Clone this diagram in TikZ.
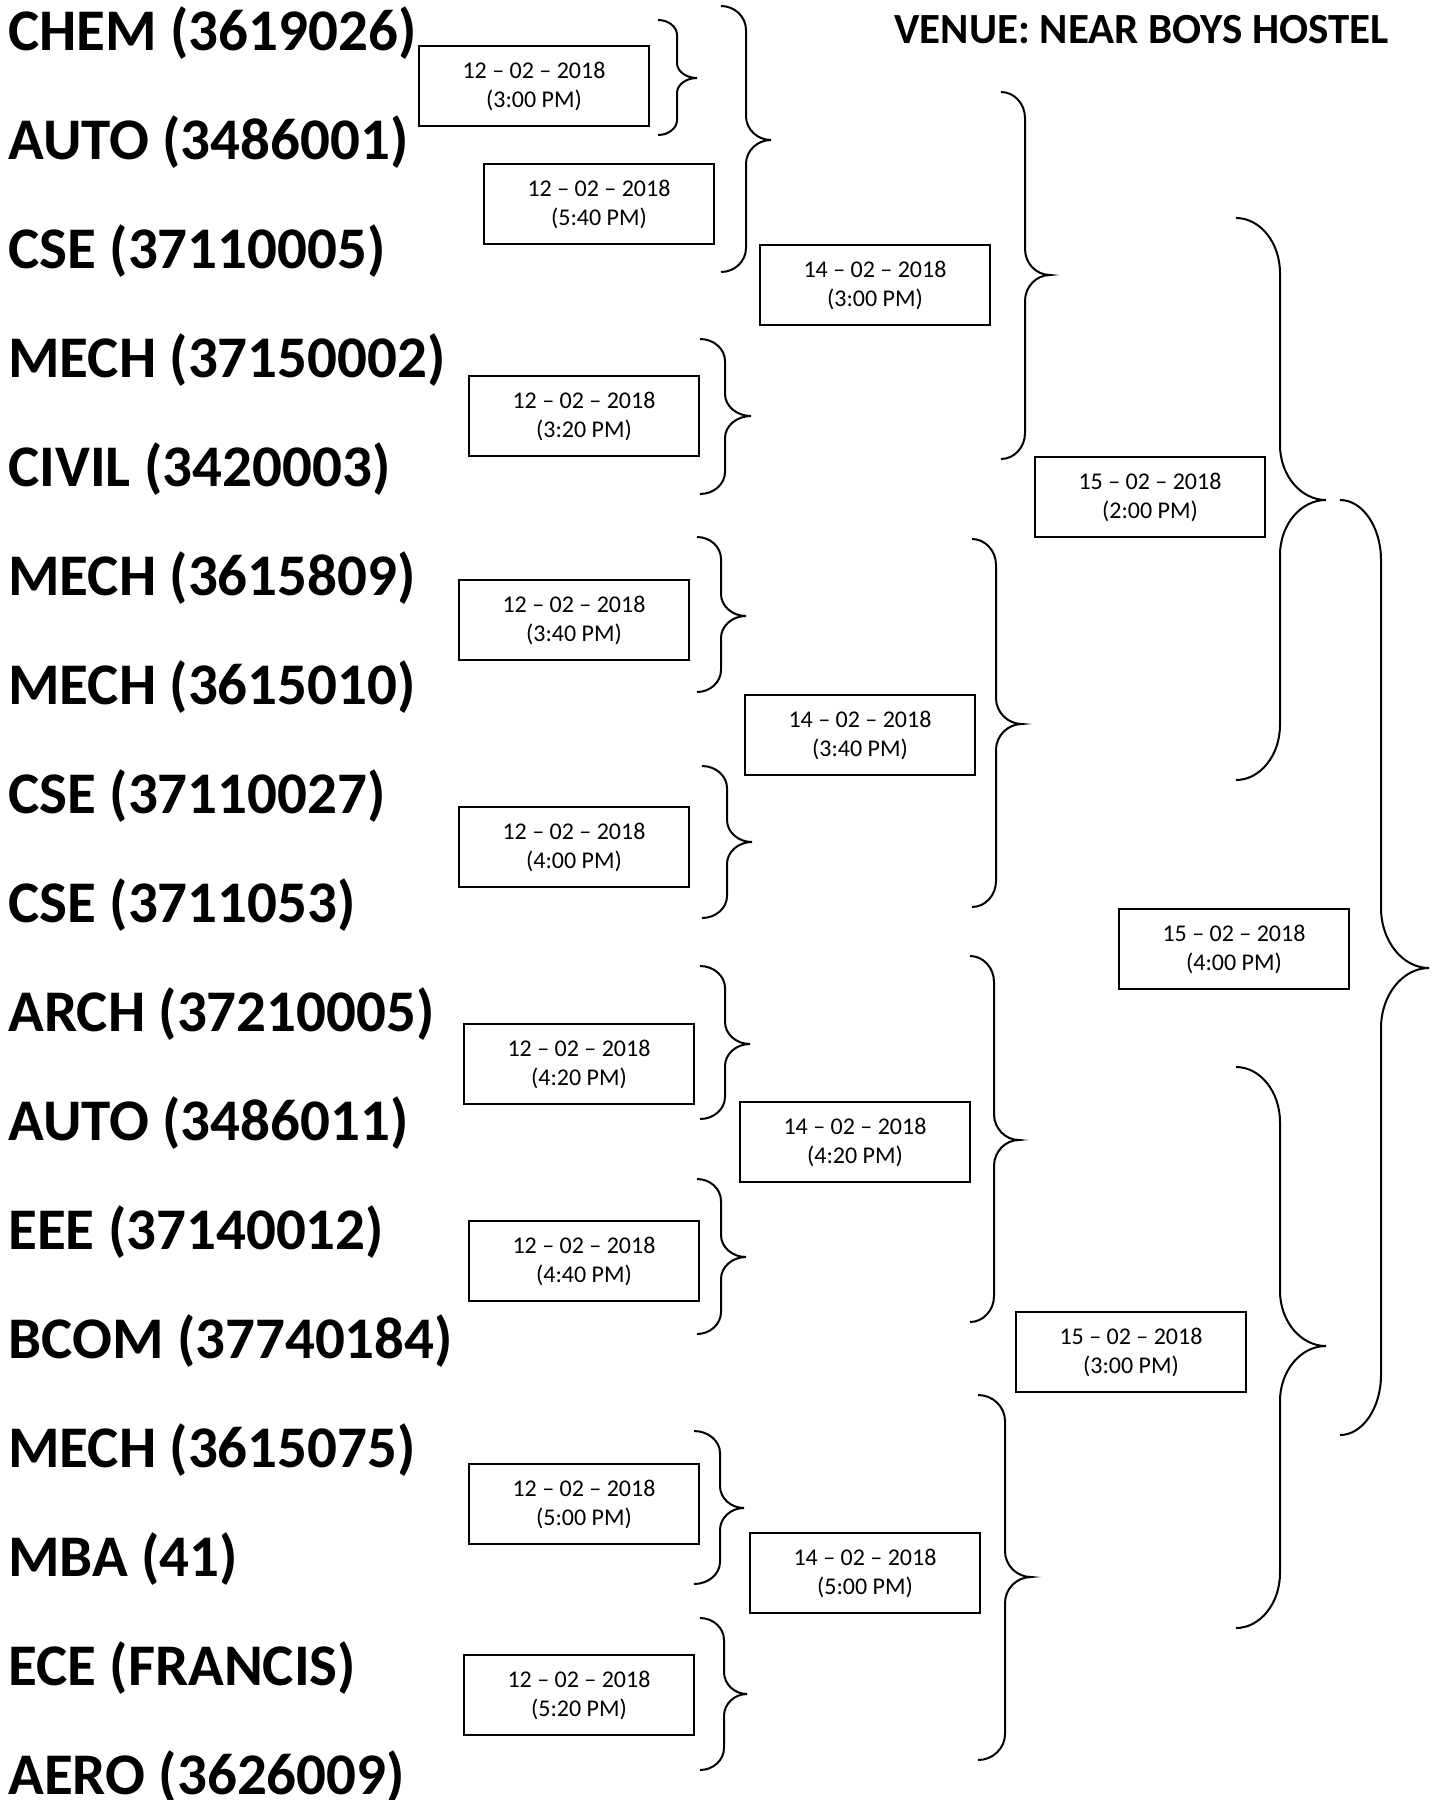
\documentclass[tikz,border=0pt]{standalone}
\usepackage{fontspec}
\setmainfont{Carlito}

% right curly bracket: end x, spine x, tip x, top y, tip y, bottom y, curl
\newcommand{\tiebrace}[7]{%
  \draw[bracket] (#1,#4) .. controls ({#1+0.55*(#2-#1)},#4) and (#2,{#4+0.45*#7}) .. (#2,{#4+#7})
    -- (#2,{#5-#7}) .. controls (#2,{#5-0.45*#7}) and ({#2+0.45*(#3-#2)},#5) .. (#3,#5)
    .. controls ({#2+0.45*(#3-#2)},#5) and (#2,{#5+0.45*#7}) .. (#2,{#5+#7})
    -- (#2,{#6-#7}) .. controls (#2,{#6-0.45*#7}) and ({#1+0.55*(#2-#1)},#6) .. (#1,#6);}

\tikzset{
  team/.style={anchor=base west, inner sep=0pt, font=\fontsize{29.5}{32}\selectfont\bfseries},
  datebox/.style={draw, line width=1pt, minimum width=115pt, minimum height=40pt,
    align=center, inner sep=0pt, font=\fontsize{12}{14.5}\selectfont},
  bracket/.style={line width=1pt},
}

\begin{document}
\begin{tikzpicture}[x=0.5pt, y=-0.5pt]
    \useasboundingbox (0,0) rectangle (1437,1800);

    % teams
    \node[team] (t1) at (8,50) {CHEM (3619026)};
    \node[team] (t2) at (8,159) {AUTO (3486001)};
    \node[team] (t3) at (8,268) {CSE (37110005)};
    \node[team] (t4) at (8,377) {MECH (37150002)};
    \node[team] (t5) at (8,486) {CIVIL (3420003)};
    \node[team] (t6) at (8,595) {MECH (3615809)};
    \node[team] (t7) at (8,704) {MECH (3615010)};
    \node[team] (t8) at (8,813) {CSE (37110027)};
    \node[team] (t9) at (8,922) {CSE (3711053)};
    \node[team] (t10) at (8,1031) {ARCH (37210005)};
    \node[team] (t11) at (8,1140) {AUTO (3486011)};
    \node[team] (t12) at (8,1249) {EEE (37140012)};
    \node[team] (t13) at (8,1358) {BCOM (37740184)};
    \node[team] (t14) at (8,1467) {MECH (3615075)};
    \node[team] (t15) at (8,1576) {MBA (41)};
    \node[team] (t16) at (8,1685) {ECE (FRANCIS)};
    \node[team] (t17) at (8,1794) {AERO (3626009)};

    \node[anchor=base west, inner sep=0pt, font=\fontsize{21.5}{24}\selectfont\bfseries] (venue) at (894,43) {VENUE: NEAR BOYS HOSTEL};

    % match dates
    \node[datebox] (d1) at (534,86) {12 -- 02 -- 2018\\(3:00 PM)};
    \node[datebox] (d2) at (599,204) {12 -- 02 -- 2018\\(5:40 PM)};
    \node[datebox] (q1) at (875,285) {14 -- 02 -- 2018\\(3:00 PM)};
    \node[datebox] (d3) at (584,416) {12 -- 02 -- 2018\\(3:20 PM)};
    \node[datebox] (s1) at (1150,497) {15 -- 02 -- 2018\\(2:00 PM)};
    \node[datebox] (d4) at (574,620) {12 -- 02 -- 2018\\(3:40 PM)};
    \node[datebox] (q2) at (860,735) {14 -- 02 -- 2018\\(3:40 PM)};
    \node[datebox] (d5) at (574,847) {12 -- 02 -- 2018\\(4:00 PM)};
    \node[datebox] (fin) at (1234,949) {15 -- 02 -- 2018\\(4:00 PM)};
    \node[datebox] (d6) at (579,1064) {12 -- 02 -- 2018\\(4:20 PM)};
    \node[datebox] (q3) at (855,1142) {14 -- 02 -- 2018\\(4:20 PM)};
    \node[datebox] (d7) at (584,1261) {12 -- 02 -- 2018\\(4:40 PM)};
    \node[datebox] (s2) at (1131,1352) {15 -- 02 -- 2018\\(3:00 PM)};
    \node[datebox] (d8) at (584,1504) {12 -- 02 -- 2018\\(5:00 PM)};
    \node[datebox] (q4) at (865,1573) {14 -- 02 -- 2018\\(5:00 PM)};
    \node[datebox] (d9) at (579,1695) {12 -- 02 -- 2018\\(5:20 PM)};

    % brackets
    \tiebrace{658}{677}{697}{20}{78}{135}{15}
    \tiebrace{721}{746}{771}{6}{140}{272}{24}
    \tiebrace{700}{725}{751}{339}{416}{494}{22}
    \tiebrace{1001}{1025}{1050}{92}{275}{459}{26}
    \tiebrace{697}{721}{746}{537}{616}{692}{22}
    \tiebrace{702}{727}{752}{766}{842}{918}{22}
    \tiebrace{972}{996}{1022}{539}{724}{907}{26}
    \tiebrace{1236}{1280}{1326}{218}{500}{780}{55}
    \tiebrace{700}{725}{750}{966}{1044}{1119}{22}
    \tiebrace{697}{721}{746}{1179}{1257}{1334}{22}
    \tiebrace{970}{994}{1019}{956}{1140}{1322}{26}
    \tiebrace{694}{720}{744}{1431}{1508}{1584}{22}
    \tiebrace{700}{724}{747}{1618}{1694}{1770}{22}
    \tiebrace{978}{1005}{1031}{1395}{1577}{1760}{26}
    \tiebrace{1236}{1280}{1326}{1067}{1346}{1628}{55}
    \tiebrace{1340}{1381}{1429}{500}{968}{1435}{60}
\end{tikzpicture}
\end{document}
